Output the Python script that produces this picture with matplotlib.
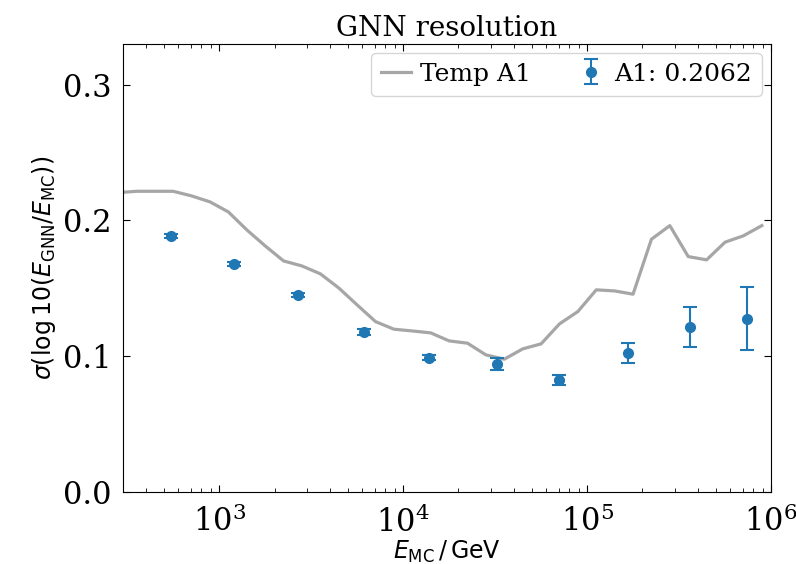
import matplotlib
matplotlib.use("Agg")
import matplotlib.pyplot as plt
import numpy as np

# template curve, log10(E) bin centres and resolution
temp_logE = [2.45, 2.55, 2.65, 2.75, 2.85, 2.95, 3.05, 3.15, 3.25, 3.35, 3.45, 3.55,
             3.65, 3.75, 3.85, 3.95, 4.05, 4.15, 4.25, 4.35, 4.45, 4.55, 4.65, 4.75,
             4.85, 4.95, 5.05, 5.15, 5.25, 5.35, 5.45, 5.55, 5.65, 5.75, 5.85, 5.95]
temp_sigma = [0.2205, 0.2215, 0.2215, 0.2215, 0.2181, 0.2137, 0.2063, 0.1931, 0.1813,
              0.1702, 0.1665, 0.1607, 0.1503, 0.1378, 0.1255, 0.1199, 0.1186, 0.1172,
              0.1113, 0.1096, 0.1010, 0.0978, 0.1054, 0.1091, 0.1238, 0.1329, 0.1489,
              0.1481, 0.1457, 0.1862, 0.1962, 0.1734, 0.1710, 0.1840, 0.1887, 0.1962]

# GNN resolution points
gnn_logE = [2.74, 3.08, 3.43, 3.79, 4.14, 4.51, 4.85, 5.22, 5.56, 5.87]
gnn_sigma = [0.1887, 0.1682, 0.1454, 0.1177, 0.0990, 0.0940, 0.0824, 0.1026, 0.1213, 0.1276]
gnn_err = [0.0015, 0.0015, 0.0015, 0.002, 0.002, 0.0045, 0.0039, 0.0074, 0.0147, 0.0233]
gnn_label = 'A1: 0.2062'

plt.rcParams['font.family'] = 'serif'
plt.rcParams['font.serif'] = ['DejaVu Serif']

fig = plt.figure(figsize=(7.96, 5.64), dpi=100)
ax = fig.add_axes([0.1545, 0.1277, 0.8141, 0.7943])

ax.plot(10 ** np.array(temp_logE), temp_sigma, color='#a6a6a6', lw=2.3, label='Temp A1')
ax.errorbar(10 ** np.array(gnn_logE), gnn_sigma, yerr=gnn_err, fmt='o', color='#1f77b4',
            markersize=7, capsize=5, elinewidth=1.5, capthick=1.5, label=gnn_label)

ax.set_xscale('log')
ax.set_xlim(300, 1e6)
ax.set_ylim(0, 0.33)
ax.set_yticks([0.0, 0.1, 0.2, 0.3])

ax.tick_params(which='both', direction='in', top=True, right=True, labelsize=22)
ax.tick_params(axis='y', pad=8)
ax.tick_params(axis='x', pad=10)
ax.tick_params(which='major', length=5)
ax.tick_params(which='minor', length=3)

ax.set_xlabel(r'$E_{\mathrm{MC}}\,/\,\mathrm{GeV}$', fontsize=17, labelpad=0)
ax.set_ylabel(r'$\sigma(\log10(E_{\mathrm{GNN}}/E_{\mathrm{MC}}))$', fontsize=17)
ax.set_title('GNN resolution', fontsize=20)

ax.legend(loc='upper right', ncol=2, fontsize=18, handlelength=1.2, handletextpad=0.35,
          borderaxespad=0.35, columnspacing=1.8)

fig.savefig('out.png', dpi=100)
